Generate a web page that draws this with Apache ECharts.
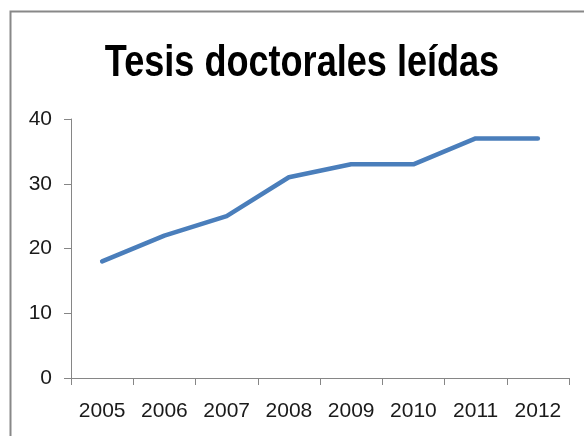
<!DOCTYPE html>
<html lang="es">
<head>
    <meta charset="UTF-8">
    <title>Tesis doctorales leídas</title>
    <style>
        html, body { margin: 0; padding: 0; background: #fff; }
        #chart { width: 584px; height: 436px; }
    </style>
    <script src="https://cdn.jsdelivr.net/npm/echarts@6/dist/echarts.min.js"></script>
</head>
<body>
<div id="chart"></div>
<script>
    // datos
    var titulo = 'Tesis doctorales leídas';
    var years = ['2005', '2006', '2007', '2008', '2009', '2010', '2011', '2012'];
    var tesis = [18, 22, 25, 31, 33, 33, 37, 37];

    var chart = echarts.init(document.getElementById('chart'));
    var axisColor = '#868686';
    var labelFont = { color: '#1a1a1a', fontSize: 21, fontFamily: 'Liberation Sans' };

    var option = {
        animation: false,
        backgroundColor: '#fff',
        graphic: [{
            type: 'rect',
            shape: { x: 10.5, y: 11.5, width: 600, height: 460 },
            style: { fill: 'none', stroke: '#888', lineWidth: 2 },
            silent: true
        }, {
            // título: fuente estrecha tipo Calibri, se comprime en horizontal
            type: 'text',
            x: 302,
            y: 64,
            scaleX: 0.82,
            style: {
                text: titulo,
                fontFamily: 'Liberation Sans',
                fontWeight: 'bold',
                fontSize: 44,
                fill: '#000',
                align: 'center',
                verticalAlign: 'middle'
            },
            silent: true
        }],
        grid: { left: 71, right: 15, top: 119, bottom: 58 },
        xAxis: {
            type: 'category',
            data: years,
            boundaryGap: true,
            axisLine: { lineStyle: { color: axisColor, width: 1 } },
            axisTick: { show: true, length: 7, alignWithLabel: false, lineStyle: { color: axisColor } },
            axisLabel: Object.assign({ margin: 23 }, labelFont),
            splitLine: { show: false }
        },
        yAxis: {
            type: 'value',
            min: 0,
            max: 40,
            interval: 10,
            axisLine: { show: true, lineStyle: { color: axisColor, width: 1 } },
            axisTick: { show: true, length: 7, lineStyle: { color: axisColor } },
            axisLabel: Object.assign({ margin: 19 }, labelFont),
            splitLine: { show: false }
        },
        series: [{
            type: 'line',
            data: tesis,
            showSymbol: false,
            symbol: 'none',
            lineStyle: { color: '#4A7EBB', width: 4.5, cap: 'round', join: 'round' }
        }]
    };
    chart.setOption(option);
</script>
</body>
</html>
